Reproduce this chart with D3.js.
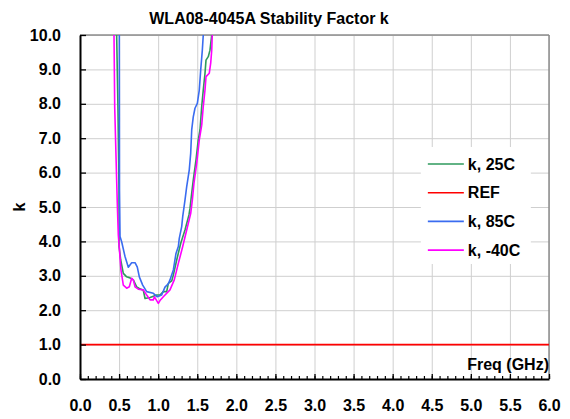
<!DOCTYPE html>
<html>
<head>
<meta charset="utf-8">
<script src="https://cdn.jsdelivr.net/npm/d3@7"></script>
<style>
  body { margin: 0; background: #fff; }
  text { font-family: "Liberation Sans", Arial, sans-serif; font-weight: bold; fill: #000; }
</style>
</head>
<body>
<div id="chart"></div>
<script>
// series data: freq (GHz) and k
var freq25 = [0.47, 0.469, 0.486, 0.499, 0.50, 0.521, 0.554, 0.597, 0.640, 0.682, 0.725, 0.759, 0.810, 0.832, 0.896, 0.981, 1.023, 1.066, 1.109, 1.130, 1.173, 1.194, 1.237, 1.288, 1.343, 1.365, 1.394, 1.407, 1.429, 1.449, 1.484, 1.513, 1.535, 1.557, 1.577, 1.599, 1.612, 1.641, 1.663, 1.685, 1.695];
var k25    = [12.0, 10.0, 7.82, 5.49, 3.85, 3.46, 3.07, 2.97, 2.94, 2.88, 2.68, 2.63, 2.58, 2.34, 2.37, 2.44, 2.44, 2.54, 2.54, 2.78, 2.85, 3.02, 3.46, 3.94, 4.33, 4.52, 4.77, 4.96, 5.40, 5.78, 6.37, 6.95, 7.24, 7.92, 8.40, 8.88, 9.27, 9.37, 9.56, 10.0, 10.44];

var freqRef = [0.0, 6.0];
var kRef    = [1.0, 1.0];

var freq85 = [0.49, 0.503, 0.505, 0.512, 0.533, 0.576, 0.618, 0.661, 0.704, 0.733, 0.759, 0.802, 0.853, 0.938, 0.989, 1.045, 1.087, 1.13, 1.151, 1.194, 1.228, 1.258, 1.270, 1.301, 1.314, 1.343, 1.365, 1.398, 1.416, 1.429, 1.449, 1.471, 1.501, 1.526, 1.544, 1.565, 1.577, 1.59];
var k85    = [12.0, 10.0, 5.49, 4.14, 3.99, 3.56, 3.25, 3.38, 3.38, 3.25, 2.97, 2.73, 2.54, 2.49, 2.39, 2.44, 2.67, 2.77, 2.88, 3.17, 3.65, 3.85, 4.09, 4.43, 4.72, 5.20, 5.59, 6.08, 6.56, 7.24, 7.62, 7.87, 8.01, 8.40, 8.98, 9.56, 10.0, 10.7];

var freqM40 = [0.43, 0.435, 0.444, 0.469, 0.477, 0.490, 0.524, 0.554, 0.597, 0.631, 0.661, 0.682, 0.704, 0.746, 0.810, 0.853, 0.896, 0.938, 0.951, 0.981, 1.002, 1.023, 1.066, 1.151, 1.206, 1.258, 1.314, 1.365, 1.385, 1.416, 1.437, 1.458, 1.493, 1.526, 1.557, 1.577, 1.599, 1.612, 1.654, 1.672, 1.685, 1.692, 1.699];
var kM40    = [12.0, 10.0, 7.91, 5.78, 5.11, 4.19, 3.17, 2.73, 2.64, 2.68, 2.93, 2.88, 2.68, 2.61, 2.59, 2.44, 2.30, 2.30, 2.39, 2.28, 2.20, 2.28, 2.39, 2.59, 2.88, 3.36, 3.85, 4.33, 4.52, 4.81, 5.20, 5.69, 6.27, 6.95, 7.38, 7.92, 8.40, 8.79, 8.89, 9.18, 9.56, 10.0, 10.44];

var seriesNames = ["k, 25C", "REF", "k, 85C", "k, -40C"];
var seriesColors = ["#2e9a5c", "#ff0000", "#3a6cf0", "#ff00ff"];
var xTicks = [0.0, 0.5, 1.0, 1.5, 2.0, 2.5, 3.0, 3.5, 4.0, 4.5, 5.0, 5.5, 6.0];
var yTicks = [0, 1, 2, 3, 4, 5, 6, 7, 8, 9, 10];

var W = 570, H = 419;
var margin = {top: 35, right: 21, bottom: 40, left: 80},
    width = W - margin.left - margin.right,
    height = H - margin.top - margin.bottom;

var svg = d3.select("#chart").append("svg")
    .attr("width", W)
    .attr("height", H);

svg.append("rect").attr("width", W).attr("height", H).attr("fill", "#fff");

var g = svg.append("g")
    .attr("transform", "translate(" + margin.left + "," + margin.top + ")");

var x = d3.scaleLinear().domain([0, 6]).range([0, width]);
var y = d3.scaleLinear().domain([0, 10]).range([height, 0]);

// grid
g.append("g")
    .attr("class", "grid")
    .call(d3.axisBottom(x).tickValues(xTicks).tickSize(height).tickFormat(""))
    .call(function(s) { s.select(".domain").remove(); })
    .selectAll("line").attr("stroke", "#cfcfcf");

g.append("g")
    .attr("class", "grid")
    .call(d3.axisRight(y).tickValues(yTicks).tickSize(width).tickFormat(""))
    .call(function(s) { s.select(".domain").remove(); })
    .selectAll("line").attr("stroke", "#cfcfcf");

// top / right border
g.append("line").attr("x1", 0).attr("x2", width).attr("y1", 0).attr("y2", 0)
    .attr("stroke", "#8c8c8c").attr("stroke-width", 1.5);
g.append("line").attr("x1", width).attr("x2", width).attr("y1", 0).attr("y2", height)
    .attr("stroke", "#8c8c8c").attr("stroke-width", 1.5);

// legend background (hides grid)
var legend = g.append("g").attr("transform", "translate(" + (x(4.45)) + ",0)");

// series lines
g.append("clipPath").attr("id", "clip")
  .append("rect").attr("x", 0).attr("y", 0).attr("width", width).attr("height", height);

var line = d3.line()
    .x(function(d) { return x(d[0]); })
    .y(function(d) { return y(d[1]); });

var seriesData = [
  d3.zip(freq25, k25),
  d3.zip(freqRef, kRef),
  d3.zip(freq85, k85),
  d3.zip(freqM40, kM40)
];

g.append("g").attr("clip-path", "url(#clip)")
  .selectAll("path")
  .data(seriesData)
  .enter()
  .append("path")
    .attr("fill", "none")
    .attr("stroke", function(d, i) { return seriesColors[i]; })
    .attr("stroke-width", 1.6)
    .attr("stroke-linejoin", "round")
    .attr("d", line);

// axes
var xAxis = g.append("g")
    .attr("transform", "translate(0," + height + ")")
    .call(d3.axisBottom(x).tickValues(xTicks).tickSizeInner(-5).tickSizeOuter(0)
          .tickPadding(21).tickFormat(d3.format(".1f")));
xAxis.select(".domain").attr("stroke", "#000").attr("stroke-width", 2);
xAxis.selectAll("line").attr("stroke", "#000").attr("stroke-width", 1.3);
xAxis.selectAll("text").style("font-size", "16px");

g.append("g")
    .attr("transform", "translate(0," + height + ")")
    .call(d3.axisBottom(x).tickValues(d3.range(0, 61).map(function(d) { return d / 10; }))
          .tickSizeInner(-3).tickSizeOuter(0).tickFormat(""))
    .call(function(s) { s.select(".domain").remove(); })
    .selectAll("line").attr("stroke", "#000").attr("stroke-width", 1.2);

var yAxis = g.append("g")
    .call(d3.axisLeft(y).tickValues(yTicks).tickSizeInner(-6).tickSizeOuter(0)
          .tickPadding(19).tickFormat(d3.format(".1f")));
yAxis.select(".domain").attr("stroke", "#000").attr("stroke-width", 2);
yAxis.selectAll("line").attr("stroke", "#000").attr("stroke-width", 1.3);
yAxis.selectAll("text").style("font-size", "16px");

// legend
legend.append("rect")
    .attr("x", -7).attr("y", 112).attr("width", 110).attr("height", 117)
    .attr("fill", "#fff");

legend.selectAll("line.key")
    .data(seriesNames)
    .enter()
    .append("line")
    .attr("class", "key")
    .attr("x1", 0).attr("x2", 36)
    .attr("y1", function(d, i) { return 129 + i * 28.7; })
    .attr("y2", function(d, i) { return 129 + i * 28.7; })
    .attr("stroke", function(d, i) { return seriesColors[i]; })
    .attr("stroke-width", 1.6);

legend.selectAll("text.key")
    .data(seriesNames)
    .enter()
    .append("text")
    .attr("class", "key")
    .attr("x", 40)
    .attr("y", function(d, i) { return 129 + i * 28.7; })
    .attr("dy", "0.36em")
    .style("font-size", "16px")
    .text(function(d) { return d; });

// titles
svg.append("text")
    .attr("x", 269).attr("y", 24)
    .attr("text-anchor", "middle")
    .style("font-size", "16px")
    .text("WLA08-4045A Stability Factor k");

svg.append("text")
    .attr("transform", "translate(25,207) rotate(-90)")
    .attr("text-anchor", "middle")
    .style("font-size", "16px")
    .text("k");

g.append("text")
    .attr("x", width).attr("y", height - 9)
    .attr("text-anchor", "end")
    .style("font-size", "16px")
    .text("Freq (GHz)");
</script>
</body>
</html>
